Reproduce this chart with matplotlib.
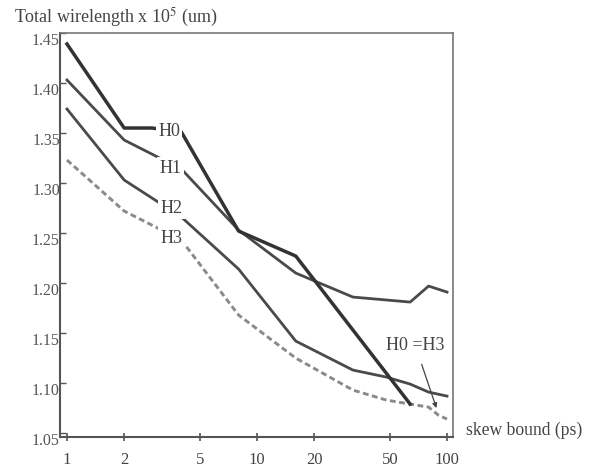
import numpy as np
import matplotlib
matplotlib.use("Agg")
from matplotlib import pyplot as plt
from matplotlib.ticker import FixedLocator, NullLocator

plt.rcParams['font.family'] = ['Liberation Serif', 'DejaVu Serif']
plt.rcParams['mathtext.fontset'] = 'stix'

# skew bound (ps) and total wirelength (x 1e5 um)
h0_x = [1, 2, 2.8, 4, 8, 16, 64]
h0_y = [1.439, 1.355, 1.355, 1.351, 1.252, 1.227, 1.079]

h1_x = [1, 2, 4, 8, 16, 32, 64, 80, 100]
h1_y = [1.403, 1.343, 1.314, 1.253, 1.210, 1.186, 1.181, 1.197, 1.191]

h2_x = [1, 2, 4, 8, 16, 32, 48, 64, 80, 100]
h2_y = [1.374, 1.303, 1.266, 1.214, 1.142, 1.113, 1.106, 1.099, 1.091, 1.087]

h3_x = [1, 2, 4, 8, 16, 32, 48, 64, 80, 90, 100]
h3_y = [1.323, 1.272, 1.243, 1.168, 1.125, 1.093, 1.083, 1.079, 1.076, 1.068, 1.064]

x_ticks = [1, 2, 5, 10, 20, 50, 100]
y_ticks = [1.05, 1.10, 1.15, 1.20, 1.25, 1.30, 1.35, 1.40, 1.45]

fig = plt.figure(figsize=(6.03, 4.68), dpi=100)
ax = fig.add_axes([0.0995, 0.066, 0.6517, 0.8635])

ax.plot(h3_x, h3_y, color='#8a8a8a', lw=2.1, ls=(0, (2.0, 1.2)))
ax.plot(h2_x, h2_y, color='#4a4a4a', lw=2.0)
ax.plot(h1_x, h1_y, color='#4a4a4a', lw=2.0)
ax.plot(h0_x, h0_y, color='#333333', lw=2.5)

lbl = dict(fontsize=13, color='#444444', ha='center', va='center',
           bbox=dict(facecolor='white', edgecolor='none', pad=1.5))
ax.text(3.45, 1.352, 'H0', **lbl)
ax.text(3.5, 1.315, 'H1', **lbl)
ax.text(3.55, 1.275, 'H2', **lbl)
ax.text(3.55, 1.245, 'H3', **lbl)

ax.annotate('H0 =H3', xy=(88, 1.075), xytext=(68, 1.138),
            fontsize=13, color='#444444', ha='center', va='center',
            arrowprops=dict(arrowstyle='-|>', color='#444444', lw=0.9,
                            mutation_scale=7, shrinkA=6, shrinkB=0))

ax.set_xscale('log')
ax.set_xlim(0.919, 107.5)
ax.set_ylim(1.046, 1.45)
ax.xaxis.set_major_locator(FixedLocator(x_ticks))
ax.xaxis.set_minor_locator(NullLocator())
ax.set_xticklabels([str(v) for v in x_ticks])
ax.set_yticks(y_ticks)
ax.set_yticklabels(['%.2f' % v for v in y_ticks])
ax.tick_params(axis='x', direction='inout', length=6, width=1.2, color='#555555',
               labelsize=12, labelcolor='#444444', pad=8)
ax.tick_params(axis='y', direction='in', length=4, width=1.0, color='#555555',
               labelsize=11.5, labelcolor='#555555', pad=0)
for lab in ax.get_yticklabels():
    lab.set_va('top')

for side in ['left', 'bottom']:
    ax.spines[side].set_color('#555555')
    ax.spines[side].set_linewidth(1.5)
for side in ['top', 'right']:
    ax.spines[side].set_color('#777777')
    ax.spines[side].set_linewidth(1.2)

fig.text(0.023, 0.963, 'Total wirelength x 10$^5$ (um)', fontsize=13,
         color='#444444', ha='left', va='center')
fig.text(0.773, 0.081, 'skew bound (ps)', fontsize=12.7, color='#444444',
         ha='left', va='center')

fig.savefig('out.png', dpi=100)
